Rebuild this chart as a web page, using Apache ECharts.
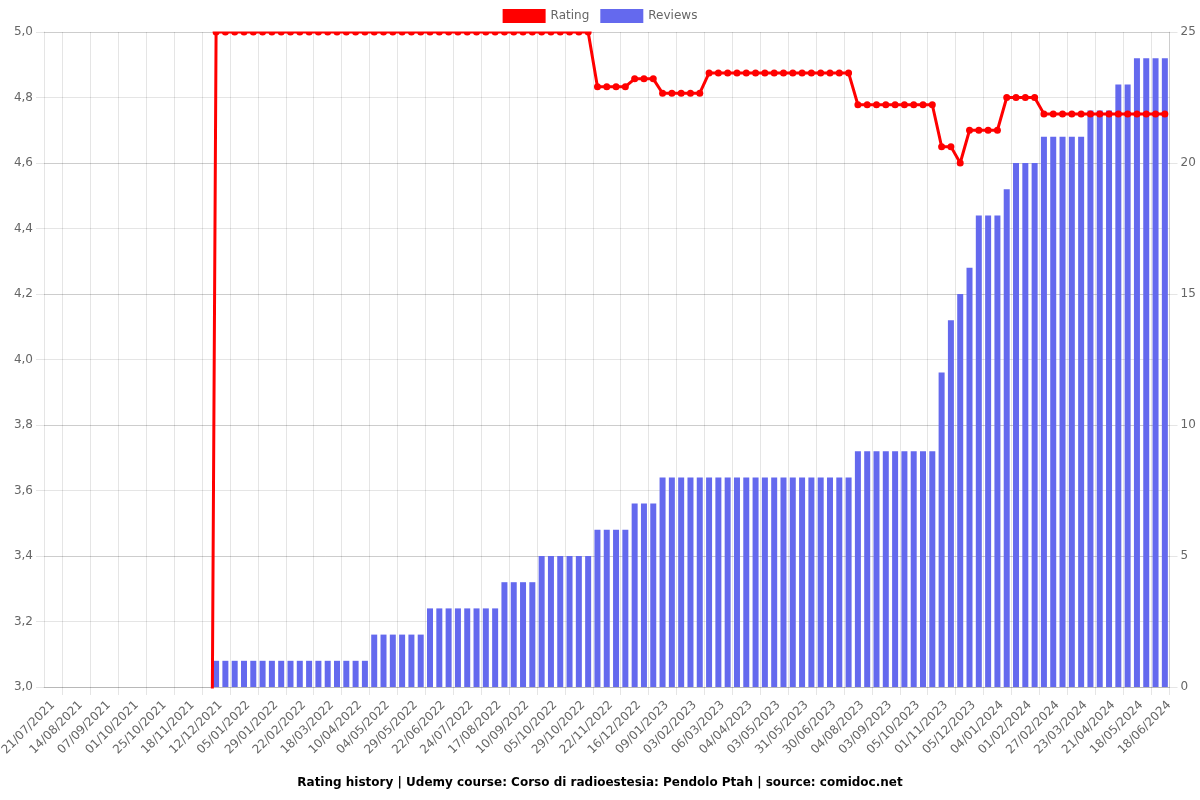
<!DOCTYPE html>
<html>
<head>
<meta charset="utf-8">
<script src="https://cdn.jsdelivr.net/npm/echarts@6/dist/echarts.min.js"></script>
<style>
  html, body { margin: 0; padding: 0; background: #fff; }
  #chart { width: 1200px; height: 800px; }
</style>
</head>
<body>
<div id="chart"></div>
<script>
const dates = [
  "21/07/2021","29/07/2021","06/08/2021","14/08/2021","22/08/2021","30/08/2021",
  "07/09/2021","15/09/2021","23/09/2021","01/10/2021","09/10/2021","17/10/2021",
  "25/10/2021","02/11/2021","10/11/2021","18/11/2021","26/11/2021","04/12/2021",
  "12/12/2021","20/12/2021","28/12/2021","05/01/2022","13/01/2022","21/01/2022",
  "29/01/2022","06/02/2022","14/02/2022","22/02/2022","02/03/2022","10/03/2022",
  "18/03/2022","26/03/2022","03/04/2022","10/04/2022","18/04/2022","26/04/2022",
  "04/05/2022","12/05/2022","20/05/2022","29/05/2022","06/06/2022","14/06/2022",
  "22/06/2022","03/07/2022","14/07/2022","24/07/2022","01/08/2022","09/08/2022",
  "17/08/2022","25/08/2022","02/09/2022","10/09/2022","18/09/2022","27/09/2022",
  "05/10/2022","13/10/2022","21/10/2022","29/10/2022","06/11/2022","14/11/2022",
  "22/11/2022","30/11/2022","08/12/2022","16/12/2022","24/12/2022","01/01/2023",
  "09/01/2023","17/01/2023","25/01/2023","03/02/2023","13/02/2023","24/02/2023",
  "06/03/2023","16/03/2023","26/03/2023","04/04/2023","14/04/2023","24/04/2023",
  "03/05/2023","12/05/2023","22/05/2023","31/05/2023","10/06/2023","20/06/2023",
  "30/06/2023","12/07/2023","23/07/2023","04/08/2023","14/08/2023","24/08/2023",
  "03/09/2023","14/09/2023","25/09/2023","05/10/2023","14/10/2023","23/10/2023",
  "01/11/2023","12/11/2023","24/11/2023","05/12/2023","15/12/2023","25/12/2023",
  "04/01/2024","13/01/2024","23/01/2024","01/02/2024","10/02/2024","18/02/2024",
  "27/02/2024","06/03/2024","14/03/2024","23/03/2024","02/04/2024","12/04/2024",
  "21/04/2024","30/04/2024","09/05/2024","18/05/2024","28/05/2024","07/06/2024",
  "18/06/2024"
];

const ratings = [
  0,0,0,0,0,0,0,0,0,0,0,0,0,0,0,0,0,0,
  5,5,5,5,5,5,5,5,5,5,5,5,5,5,5,5,5,5,5,5,5,5,5,5,5,5,5,5,5,5,5,5,5,5,5,5,5,5,5,5,5,
  4.833,4.833,4.833,4.833,
  4.857,4.857,4.857,
  4.813,4.813,4.813,4.813,4.813,
  4.875,4.875,4.875,4.875,4.875,4.875,4.875,4.875,4.875,4.875,4.875,4.875,4.875,4.875,4.875,4.875,
  4.778,4.778,4.778,4.778,4.778,4.778,4.778,4.778,4.778,
  4.65,4.65,
  4.6,
  4.7,4.7,4.7,4.7,
  4.8,4.8,4.8,4.8,
  4.75,4.75,4.75,4.75,4.75,4.75,4.75,4.75,4.75,4.75,4.75,4.75,4.75,4.75
];

const reviews = [
  0,0,0,0,0,0,0,0,0,0,0,0,0,0,0,0,0,0,
  1,1,1,1,1,1,1,1,1,1,1,1,1,1,1,1,1,
  2,2,2,2,2,2,
  3,3,3,3,3,3,3,3,
  4,4,4,4,
  5,5,5,5,5,5,
  6,6,6,6,
  7,7,7,
  8,8,8,8,8,8,8,8,8,8,8,8,8,8,8,8,8,8,8,8,8,
  9,9,9,9,9,9,9,9,9,
  12,14,15,16,
  18,18,18,
  19,
  20,20,20,
  21,21,21,21,21,
  22,22,22,
  23,23,
  24,24,24,24
];

const ratingTicks = { min: 3, max: 5, step: 0.2 };
const reviewTicks = { min: 0, max: 25, step: 5 };
const titleText = "Rating history | Udemy course: Corso di radioestesia: Pendolo Ptah | source: comidoc.net";

const FONT = "DejaVu Sans";
const GRID_COLOR = "rgba(0,0,0,0.1)";
const LABEL_COLOR = "#666";
const everyThirdOffset = function (index) { return index % 3 === 2; };

const GRID = { left: 44, right: 30.5, top: 32, bottom: 113 };

const chart = echarts.init(document.getElementById('chart'), null, { renderer: 'canvas' });
chart.setOption({
  animation: false,
  backgroundColor: '#fff',
  textStyle: { fontFamily: FONT },
  title: {
    text: titleText,
    left: 'center',
    bottom: 6,
    textStyle: { fontFamily: FONT, fontSize: 12, fontWeight: 'bold', color: '#000' }
  },
  legend: {
    top: 4,
    left: 'center',
    itemWidth: 43,
    itemHeight: 14,
    itemGap: 11,
    textStyle: { fontFamily: FONT, fontSize: 12, color: LABEL_COLOR },
    data: [
      { name: 'Rating', icon: 'rect', itemStyle: { color: '#ff0000' } },
      { name: 'Reviews', icon: 'rect', itemStyle: { color: '#6469ee' } }
    ]
  },
  graphic: [
    {
      type: 'rect',
      z: 100,
      silent: true,
      shape: { x: GRID.left + 1, y: 25, width: 1200 - GRID.left - GRID.right - 1, height: GRID.top - 25 - 0.5 },
      style: { fill: '#fff' }
    }
  ],
  grid: { left: GRID.left, right: GRID.right, top: GRID.top, bottom: GRID.bottom, containLabel: false, outerBoundsMode: 'none' },
  xAxis: {
    type: 'category',
    data: dates,
    boundaryGap: true,
    axisLine: { show: true, lineStyle: { color: GRID_COLOR } },
    axisTick: { show: true, length: 8, interval: everyThirdOffset, lineStyle: { color: GRID_COLOR } },
    splitLine: { show: true, interval: everyThirdOffset, lineStyle: { color: GRID_COLOR } },
    axisLabel: {
      interval: 2, rotate: 45, fontFamily: FONT, fontSize: 12, color: LABEL_COLOR,
      margin: 12, verticalAlign: 'top'
    }
  },
  yAxis: [
    {
      type: 'value',
      position: 'left',
      min: ratingTicks.min, max: ratingTicks.max, interval: ratingTicks.step,
      axisLine: { show: true, lineStyle: { color: GRID_COLOR } },
      axisTick: { show: true, length: 8, lineStyle: { color: GRID_COLOR } },
      splitLine: { show: true, lineStyle: { color: GRID_COLOR } },
      axisLabel: {
        fontFamily: FONT, fontSize: 12, color: LABEL_COLOR, margin: 11,
        formatter: function (v) { return v.toFixed(1).replace('.', ','); }
      }
    },
    {
      type: 'value',
      position: 'right',
      min: reviewTicks.min, max: reviewTicks.max, interval: reviewTicks.step,
      axisLine: { show: true, lineStyle: { color: GRID_COLOR } },
      axisTick: { show: true, length: 8, lineStyle: { color: GRID_COLOR } },
      splitLine: { show: true, lineStyle: { color: GRID_COLOR } },
      axisLabel: { fontFamily: FONT, fontSize: 12, color: LABEL_COLOR, margin: 11 }
    }
  ],
  series: [
    {
      name: 'Rating',
      type: 'line',
      yAxisIndex: 0,
      data: ratings,
      z: 3,
      clip: true,
      symbol: 'circle',
      symbolSize: 7,
      showSymbol: true,
      showAllSymbol: true,
      lineStyle: { color: '#ff0000', width: 3 },
      itemStyle: { color: '#ff0000' }
    },
    {
      name: 'Reviews',
      type: 'bar',
      yAxisIndex: 1,
      data: reviews,
      z: 2,
      barWidth: 6,
      itemStyle: { color: '#6469ee' }
    }
  ]
});
</script>
</body>
</html>
